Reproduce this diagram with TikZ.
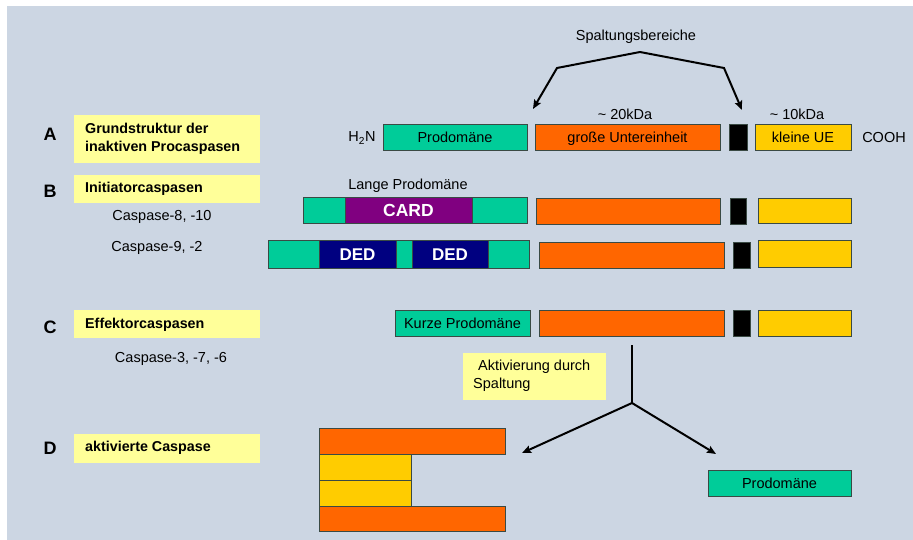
\documentclass[tikz,border=0pt]{standalone}
\usepackage{fontspec}
\setmainfont{Liberation Sans}
\usetikzlibrary{arrows.meta}
\definecolor{bgc}{HTML}{CCD6E3}
\definecolor{teal1}{HTML}{00CC99}
\definecolor{orng}{HTML}{FF6600}
\definecolor{gold}{HTML}{FFCC00}
\definecolor{lyel}{HTML}{FFFF99}
\definecolor{purp}{HTML}{800080}
\definecolor{navy1}{HTML}{000080}
\definecolor{edge}{HTML}{3A4A44}
\newcommand\bx[7]{\node[#6, minimum width={(#4-#2)*1pt}, minimum height={(#5-#3)*1pt}] (#1) at ({(#2+#4)/2},{(#3+#5)/2}) {#7};}
\begin{document}
\begin{tikzpicture}[x=1pt,y=-1pt,
  dom/.style={draw=edge, line width=0.8pt, inner sep=0pt, outer sep=0pt, text height=10.4pt, text depth=0pt, font=\fontsize{14.5}{16}\selectfont},
  tl/.style={dom, fill=teal1},
  og/.style={dom, fill=orng},
  gd/.style={dom, fill=gold},
  bk/.style={dom, fill=black},
  pu/.style={dom, fill=purp, text=white, text height=12.6pt, font=\fontsize{17.5}{19}\selectfont\bfseries},
  nv/.style={dom, fill=navy1, text=white, text height=12.2pt, font=\fontsize{17}{19}\selectfont\bfseries},
  lab/.style={fill=lyel, inner sep=0pt, outer sep=0pt},
  labtxt/.style={anchor=west, align=left, inner sep=0pt, font=\fontsize{14.3}{17.5}\selectfont\bfseries},
  letter/.style={inner sep=0pt, font=\fontsize{18}{20}\selectfont\bfseries},
  plain/.style={inner sep=0pt, font=\fontsize{14.5}{18}\selectfont},
  arr/.style={line width=2pt, -{Stealth[length=9pt,width=7.5pt,inset=1.5pt]}},
  ln/.style={line width=2pt}]
\useasboundingbox (0,0) rectangle (913,540);
\fill[white] (0,0) rectangle (913,540);
\fill[bgc] (7,6) rectangle (913,540);

% labels column
\node[letter] (lA) at (50,134) {A};
\bx{yA}{74}{115}{260}{163}{lab}{}
\node[labtxt] (tA) at (85,139) {Grundstruktur der\\inaktiven Procaspasen};
\node[letter] (lB) at (50,191) {B};
\bx{yB}{74}{175}{260}{203}{lab}{}
\node[labtxt] (tB) at (85,189) {Initiatorcaspasen};
\node[plain] (c810) at (162,217) {Caspase-8, -10};
\node[plain] (c92) at (157,248) {Caspase-9, -2};
\node[letter] (lC) at (50,327) {C};
\bx{yC}{74}{310}{260}{338}{lab}{}
\node[labtxt] (tC) at (85,325) {Effektorcaspasen};
\node[plain] (c376) at (171,359) {Caspase-3, -7, -6};
\node[letter] (lD) at (50,448) {D};
\bx{yD}{74}{434}{260}{463}{lab}{}
\node[labtxt] (tD) at (85,448) {aktivierte Caspase};

% top annotations
\node[plain] (sp) at (636,37) {Spaltungsbereiche};
\node[plain] (k20) at (625,114) {\textasciitilde{} 20kDa};
\node[plain] (k10) at (797,114) {\textasciitilde{} 10kDa};
\coordinate (peak) at (640,52);
\coordinate (lc) at (557,68);
\coordinate (rc) at (724,68);
\coordinate (la) at (533,109);
\coordinate (ra) at (742,110);
\draw[arr] (peak) -- (lc) -- (la);
\draw[arr] (peak) -- (rc) -- (ra);

% row A
\node[plain] (h2n) at (362,138) {H\textsubscript{2}N};
\bx{aP}{383}{124}{527}{150}{tl}{Prodomäne}
\bx{aG}{535}{124}{720}{150}{og}{große Untereinheit}
\bx{aB}{729}{124}{747}{150}{bk}{}
\bx{aK}{755}{124}{851}{150}{gd}{kleine UE}
\node[plain] (cooh) at (884,138) {COOH};

% row B1
\node[plain] (lp) at (408,186) {Lange Prodomäne};
\bx{b1T}{303}{197}{527}{223}{tl}{}
\bx{b1C}{345}{197}{472}{223}{pu}{CARD}
\bx{b1G}{536}{198}{720}{224}{og}{}
\bx{b1B}{730}{198}{746}{224}{bk}{}
\bx{b1K}{758}{198}{851}{223}{gd}{}

% row B2
\bx{b2T}{268}{240}{529}{268}{tl}{}
\bx{b2D1}{319}{240}{396}{268}{nv}{DED}
\bx{b2D2}{412}{240}{488}{268}{nv}{DED}
\bx{b2G}{539}{242}{724}{268}{og}{}
\bx{b2B}{733}{242}{750}{268}{bk}{}
\bx{b2K}{758}{240}{851}{267}{gd}{}

% row C
\bx{cP}{395}{310}{530}{336}{tl}{Kurze Prodomäne}
\bx{cG}{539}{310}{724}{336}{og}{}
\bx{cB}{733}{310}{750}{336}{bk}{}
\bx{cK}{758}{310}{851}{336}{gd}{}

% activation
\bx{act}{463}{353}{606}{400}{lab}{}
\node[anchor=west, align=left, inner sep=0pt, font=\fontsize{14.5}{18}\selectfont] (actt) at (473,376) {\hspace{5pt}Aktivierung durch\\Spaltung};
\coordinate (vt) at (632,345);
\coordinate (fork) at (632,403);
\coordinate (dl) at (522,453);
\coordinate (dr) at (716,454);
\draw[ln] (vt) -- (fork);
\draw[arr] (fork) -- (dl);
\draw[arr] (fork) -- (dr);

% D complex
\bx{dO1}{319}{428}{505}{454}{og}{}
\bx{dY1}{319}{454}{411}{480}{gd}{}
\bx{dY2}{319}{480}{411}{506}{gd}{}
\bx{dO2}{319}{506}{505}{531}{og}{}
\bx{dP}{708}{470}{851}{496}{tl}{Prodomäne}
\end{tikzpicture}
\end{document}
